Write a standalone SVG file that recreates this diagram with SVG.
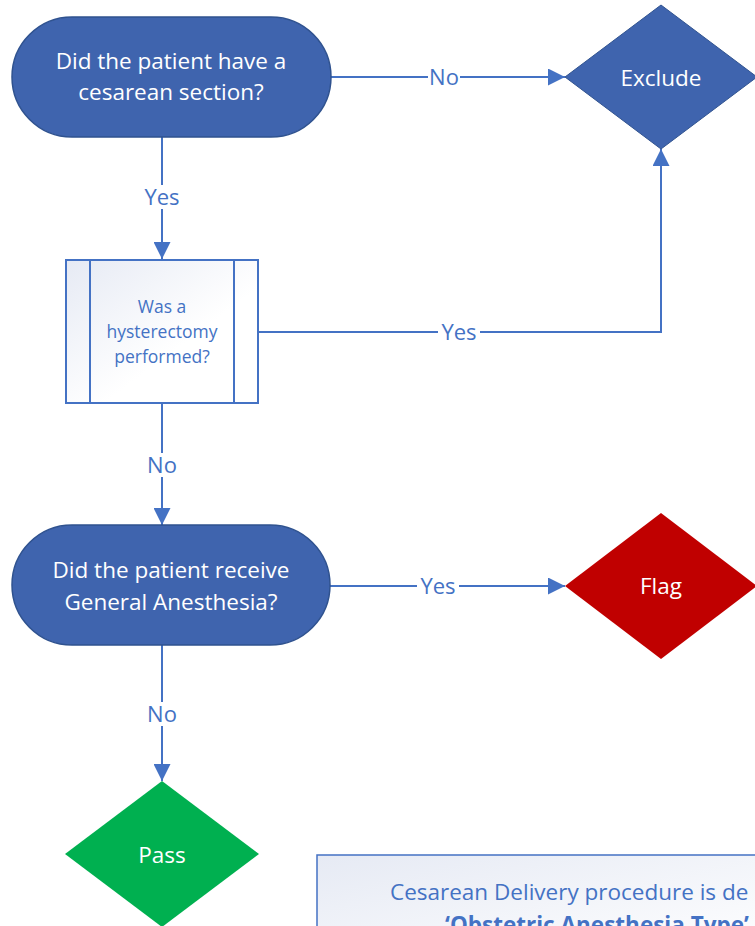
<svg xmlns="http://www.w3.org/2000/svg" width="755" height="926" viewBox="0 0 755 926">
<defs>
<style>
.term{fill:#3F64AE;stroke:#2F528F;stroke-width:1.5}
.wt{fill:#fff;font-family:"Open Sans","Noto Sans",sans-serif;font-size:22.5px;text-anchor:middle}
.bt{fill:#4472C4;font-family:"Open Sans","Noto Sans",sans-serif;text-anchor:middle}
.lbl{fill:#4472C4;font-family:"Open Sans","Noto Sans",sans-serif;font-size:22px;text-anchor:middle}
.con{fill:none;stroke:#4472C4;stroke-width:2}
.lb{fill:#fff}
</style>
<linearGradient id="lg" x1="0" y1="0" x2="1" y2="1">
<stop offset="0" stop-color="#E6EAF4"/>
<stop offset="0.6" stop-color="#FFFFFF"/>
</linearGradient>
<linearGradient id="lg2" x1="0" y1="0" x2="1" y2="1">
<stop offset="0" stop-color="#E6EAF4"/>
<stop offset="1" stop-color="#FFFFFF"/>
</linearGradient>
<marker id="ah" viewBox="0 0 10 10" refX="10" refY="5" markerWidth="8.5" markerHeight="8.5" markerUnits="strokeWidth" orient="auto">
<path d="M0,0 L10,5 L0,10 z" fill="#4472C4"/>
</marker>
</defs>

<g id="connectors">
<line class="con" x1="331" y1="77" x2="565" y2="77" marker-end="url(#ah)"/>
<line class="con" x1="162" y1="137" x2="162" y2="259" marker-end="url(#ah)"/>
<polyline class="con" points="258,332 661,332 661,149" marker-end="url(#ah)"/>
<line class="con" x1="162" y1="403" x2="162" y2="525" marker-end="url(#ah)"/>
<line class="con" x1="330" y1="586" x2="565" y2="586" marker-end="url(#ah)"/>
<line class="con" x1="162" y1="645" x2="162" y2="781" marker-end="url(#ah)"/>
<rect class="lb" x="428" y="65" width="32" height="24"/>
<text class="lbl" x="444" y="85">No</text>
<rect class="lb" x="141" y="185" width="42" height="24"/>
<text class="lbl" x="162" y="205">Yes</text>
<rect class="lb" x="438" y="320" width="42" height="24"/>
<text class="lbl" x="459" y="340">Yes</text>
<rect class="lb" x="146" y="453" width="32" height="24"/>
<text class="lbl" x="162" y="473">No</text>
<rect class="lb" x="417" y="574" width="42" height="24"/>
<text class="lbl" x="438" y="594">Yes</text>
<rect class="lb" x="146" y="702" width="32" height="24"/>
<text class="lbl" x="162" y="722">No</text>
</g>

<g id="n1">
<rect class="term" x="12" y="17" width="319" height="120" rx="60" ry="60"/>
<text class="wt" x="171" y="69">Did the patient have a</text>
<text class="wt" x="171" y="100">cesarean section?</text>
</g>

<g id="exclude">
<polygon points="661,5 757,77 661,149 565,77" fill="#3F64AE" stroke="#2F528F" stroke-width="1"/>
<text class="wt" x="661" y="86">Exclude</text>
</g>

<g id="hyst">
<rect x="66" y="260" width="192" height="143" fill="url(#lg)" stroke="#4472C4" stroke-width="2"/>
<line x1="90" y1="260" x2="90" y2="403" stroke="#4472C4" stroke-width="2"/>
<line x1="234" y1="260" x2="234" y2="403" stroke="#4472C4" stroke-width="2"/>
<text class="bt" font-size="17.5px" x="162" y="313">Was a</text>
<text class="bt" font-size="17.5px" x="162" y="338">hysterectomy</text>
<text class="bt" font-size="17.5px" x="162" y="363">performed?</text>
</g>

<g id="n2">
<rect class="term" x="12" y="525" width="318" height="120" rx="60" ry="60"/>
<text class="wt" x="171" y="578">Did the patient receive</text>
<text class="wt" x="171" y="610">General Anesthesia?</text>
</g>

<g id="flag">
<polygon points="661,513 757,586 661,659 565,586" fill="#C00000"/>
<text class="wt" x="661" y="594">Flag</text>
</g>

<g id="pass">
<polygon points="162,781 259,854 162,927 65,854" fill="#00B050"/>
<text class="wt" x="162" y="863">Pass</text>
</g>

<g id="note">
<rect x="317" y="855" width="460" height="100" fill="url(#lg2)" stroke="#4472C4" stroke-width="1.5"/>
<text class="bt" font-size="22.5px" x="390" y="900" style="text-anchor:start">Cesarean Delivery procedure is de</text>
<text class="bt" font-size="22.5px" font-weight="bold" x="445" y="933" style="text-anchor:start">‘Obstetric Anesthesia Type’</text>
</g>
</svg>
